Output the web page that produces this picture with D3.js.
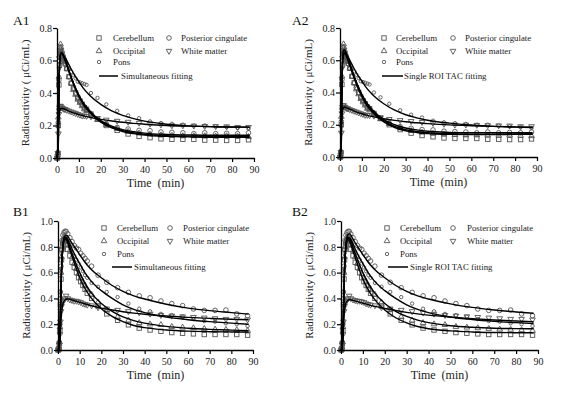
<!DOCTYPE html>
<html><head><meta charset="utf-8">
<script src="https://cdn.jsdelivr.net/npm/d3@7"></script>
<style>body{margin:0;background:#fff}svg{display:block}text{font-family:"Liberation Serif","Times New Roman",serif}</style>
</head><body><svg id="c" width="575" height="401"></svg>
<script>
// frame mid-times (min)
const frameT = [0.125,0.375,0.625,0.875,1.125,1.375,1.625,1.875,2.25,2.75,3.25,3.75,4.5,5.5,6.5,7.5,8.5,9.5,10.5,11.5,12.5,13.5,15.5,18.5,22.5,27.5,32.5,37.5,42.5,47.5,52.5,57.5,62.5,67.5,72.5,77.5,82.5,87.5];
const regions = ["Cerebellum","Posterior cingulate","Occipital","White matter","Pons"];
const xTicks = [0,10,20,30,40,50,60,70,80,90];
const yTicksA = [0,0.2,0.4,0.6,0.8];
const yTicksB = [0,0.2,0.4,0.6,0.8,1.0];

// Subject A measured TACs
const aCerebellum = [0,0.02,0.2,0.45,0.57,0.62,0.64,0.64,0.63,0.62,0.6,0.58,0.55,0.5,0.46,0.43,0.4,0.37,0.35,0.33,0.31,0.3,0.27,0.24,0.2,0.17,0.148,0.133,0.125,0.118,0.115,0.115,0.115,0.11,0.11,0.108,0.108,0.112];
const aOccipital = [0,0.03,0.25,0.5,0.63,0.68,0.7,0.68,0.66,0.63,0.61,0.59,0.55,0.5,0.46,0.42,0.39,0.36,0.34,0.32,0.3,0.29,0.27,0.235,0.205,0.18,0.162,0.152,0.145,0.14,0.138,0.135,0.135,0.135,0.133,0.135,0.133,0.13];
const aPostCing = [0,0.03,0.22,0.48,0.6,0.64,0.65,0.65,0.64,0.62,0.6,0.58,0.55,0.5,0.46,0.43,0.4,0.37,0.35,0.33,0.31,0.3,0.27,0.24,0.21,0.188,0.178,0.17,0.168,0.16,0.158,0.155,0.15,0.155,0.15,0.152,0.15,0.155];
const aPons = [0,0.04,0.3,0.55,0.64,0.66,0.67,0.66,0.64,0.62,0.61,0.6,0.58,0.55,0.53,0.51,0.49,0.47,0.465,0.46,0.455,0.45,0.4,0.37,0.33,0.29,0.262,0.245,0.225,0.215,0.21,0.205,0.2,0.2,0.195,0.19,0.185,0.18];
const aWhite = [0,0.03,0.15,0.27,0.31,0.32,0.32,0.31,0.31,0.305,0.3,0.3,0.295,0.29,0.285,0.28,0.275,0.27,0.265,0.26,0.26,0.258,0.255,0.245,0.235,0.228,0.222,0.216,0.21,0.205,0.2,0.2,0.198,0.196,0.195,0.194,0.19,0.19];

// Subject B measured TACs
const bCerebellum = [0,0.01,0.05,0.15,0.35,0.55,0.7,0.78,0.83,0.85,0.84,0.82,0.78,0.73,0.68,0.64,0.6,0.56,0.53,0.5,0.47,0.44,0.4,0.34,0.28,0.23,0.195,0.17,0.155,0.145,0.135,0.13,0.125,0.12,0.12,0.12,0.12,0.115];
const bOccipital = [0,0.01,0.06,0.18,0.4,0.6,0.72,0.8,0.84,0.86,0.86,0.85,0.82,0.77,0.72,0.67,0.63,0.59,0.56,0.53,0.5,0.47,0.43,0.37,0.31,0.256,0.23,0.21,0.2,0.195,0.18,0.175,0.17,0.165,0.16,0.158,0.155,0.15];
const bPostCing = [0,0.01,0.06,0.2,0.45,0.65,0.78,0.85,0.89,0.91,0.92,0.92,0.9,0.87,0.84,0.81,0.79,0.78,0.75,0.73,0.71,0.69,0.65,0.58,0.525,0.483,0.447,0.42,0.405,0.38,0.36,0.344,0.318,0.307,0.307,0.31,0.28,0.266];
const bPons = [0,0.01,0.06,0.2,0.45,0.63,0.75,0.82,0.86,0.88,0.88,0.87,0.84,0.8,0.76,0.73,0.7,0.67,0.64,0.61,0.58,0.56,0.52,0.49,0.45,0.41,0.36,0.32,0.3,0.28,0.27,0.258,0.24,0.225,0.22,0.207,0.2,0.186];
const bWhite = [0,0.01,0.04,0.12,0.22,0.3,0.34,0.36,0.38,0.39,0.4,0.42,0.4,0.39,0.385,0.38,0.38,0.375,0.37,0.36,0.355,0.35,0.345,0.33,0.32,0.31,0.3,0.29,0.28,0.27,0.265,0.26,0.255,0.25,0.245,0.24,0.24,0.235];

// fitted curves, sampled
const fitT = [0,0.5,1,1.5,2,2.5,3,4,5,6,8,10,12,15,20,25,30,35,40,50,60,70,80,88];
const a1Cer = [0,0.1,0.5,0.63,0.645,0.64,0.625,0.59,0.55,0.51,0.44,0.38,0.33,0.28,0.22,0.185,0.163,0.15,0.141,0.133,0.13,0.128,0.128,0.128];
const a1Occ = [0,0.1,0.5,0.635,0.65,0.645,0.63,0.595,0.555,0.515,0.445,0.385,0.335,0.285,0.225,0.19,0.168,0.155,0.146,0.138,0.135,0.134,0.134,0.134];
const a1PC  = [0,0.1,0.5,0.63,0.645,0.64,0.627,0.593,0.553,0.514,0.445,0.387,0.34,0.29,0.23,0.196,0.175,0.162,0.153,0.145,0.142,0.14,0.14,0.14];
const a1Pons= [0,0.1,0.5,0.63,0.645,0.64,0.63,0.61,0.585,0.56,0.51,0.47,0.43,0.385,0.33,0.29,0.262,0.242,0.227,0.208,0.198,0.193,0.19,0.19];
const a1WM  = [0,0.05,0.25,0.3,0.305,0.305,0.303,0.298,0.292,0.286,0.276,0.267,0.26,0.25,0.238,0.228,0.22,0.213,0.208,0.2,0.196,0.193,0.191,0.19];
const a2Cer = [0,0.1,0.5,0.63,0.64,0.635,0.62,0.585,0.545,0.505,0.435,0.375,0.325,0.275,0.218,0.183,0.163,0.152,0.145,0.14,0.139,0.139,0.14,0.141];
const a2Occ = [0,0.12,0.55,0.66,0.665,0.655,0.64,0.6,0.56,0.52,0.448,0.386,0.335,0.284,0.225,0.19,0.17,0.158,0.15,0.144,0.142,0.142,0.143,0.144];
const a2PC  = [0,0.1,0.5,0.63,0.645,0.64,0.627,0.593,0.553,0.514,0.445,0.387,0.34,0.29,0.232,0.2,0.18,0.168,0.16,0.153,0.15,0.15,0.15,0.151];
const a2Pons= [0,0.1,0.52,0.64,0.65,0.645,0.635,0.612,0.586,0.56,0.51,0.47,0.43,0.385,0.33,0.29,0.262,0.243,0.228,0.21,0.198,0.19,0.185,0.183];
const a2WM  = [0,0.05,0.26,0.305,0.31,0.308,0.305,0.3,0.294,0.288,0.277,0.268,0.26,0.25,0.237,0.227,0.219,0.212,0.207,0.199,0.194,0.19,0.187,0.185];
const b1Cer = [0,0.02,0.2,0.55,0.75,0.83,0.86,0.85,0.8,0.75,0.65,0.56,0.49,0.41,0.32,0.26,0.22,0.19,0.173,0.155,0.146,0.142,0.14,0.139];
const b1Occ = [0,0.02,0.2,0.55,0.75,0.83,0.86,0.86,0.82,0.77,0.68,0.6,0.53,0.45,0.36,0.3,0.257,0.228,0.208,0.183,0.169,0.16,0.154,0.15];
const b1PC  = [0,0.02,0.2,0.55,0.75,0.84,0.88,0.89,0.87,0.84,0.79,0.74,0.69,0.63,0.56,0.5,0.455,0.42,0.395,0.355,0.325,0.305,0.29,0.278];
const b1Pons= [0,0.02,0.2,0.55,0.75,0.84,0.87,0.87,0.84,0.8,0.73,0.67,0.61,0.54,0.46,0.4,0.35,0.315,0.29,0.255,0.235,0.22,0.208,0.2];
const b1WM  = [0,0.01,0.1,0.25,0.33,0.37,0.385,0.395,0.395,0.39,0.38,0.37,0.36,0.345,0.325,0.31,0.297,0.286,0.277,0.263,0.253,0.245,0.238,0.234];
const b2Cer = [0,0.02,0.22,0.58,0.77,0.84,0.86,0.84,0.79,0.74,0.64,0.55,0.48,0.4,0.31,0.25,0.21,0.182,0.165,0.148,0.14,0.136,0.134,0.133];
const b2Occ = [0,0.02,0.2,0.55,0.75,0.83,0.86,0.86,0.82,0.77,0.68,0.6,0.53,0.45,0.36,0.3,0.26,0.232,0.212,0.188,0.176,0.169,0.166,0.165];
const b2PC  = [0,0.02,0.2,0.55,0.76,0.85,0.89,0.9,0.875,0.845,0.79,0.74,0.69,0.63,0.56,0.5,0.455,0.42,0.395,0.358,0.33,0.31,0.295,0.285];
const b2Pons= [0,0.02,0.2,0.55,0.75,0.84,0.87,0.87,0.84,0.8,0.73,0.67,0.61,0.54,0.46,0.4,0.35,0.315,0.29,0.256,0.236,0.222,0.212,0.205];
const b2WM  = [0,0.01,0.12,0.28,0.35,0.375,0.385,0.39,0.388,0.383,0.373,0.363,0.354,0.34,0.322,0.306,0.292,0.28,0.27,0.255,0.243,0.233,0.225,0.22];

const symbols = {"Cerebellum":"square","Posterior cingulate":"circle","Occipital":"tri","White matter":"tridown","Pons":"small"};

const panels = [
 {label:"A1", lx:13, ly:25, x0:57, x1:254, yb:158, yt:28, ymax:0.8, yTicks:yTicksA,
  data:[aCerebellum,aPostCing,aOccipital,aWhite,aPons], fits:[a1Cer,a1PC,a1Occ,a1WM,a1Pons], fitLabel:"Simultaneous fitting",
  lg:{m1:99,t1:113,m2:169,t2:181,rows:[38,51,62],fy:76,fl:[99,118],ft:121}},
 {label:"A2", lx:292, ly:25, x0:340, x1:537, yb:157, yt:28, ymax:0.8, yTicks:yTicksA,
  data:[aCerebellum,aPostCing,aOccipital,aWhite,aPons], fits:[a2Cer,a2PC,a2Occ,a2WM,a2Pons], fitLabel:"Single ROI TAC fitting",
  lg:{m1:384,t1:396,m2:453,t2:465,rows:[38,51,62],fy:76,fl:[382,403],ft:404}},
 {label:"B1", lx:13, ly:216, x0:58, x1:253, yb:350, yt:221, ymax:1.0, yTicks:yTicksB,
  data:[bCerebellum,bPostCing,bOccipital,bWhite,bPons], fits:[b1Cer,b1PC,b1Occ,b1WM,b1Pons], fitLabel:"Simultaneous fitting",
  lg:{m1:104,t1:117,m2:170,t2:183,rows:[228,241,254],fy:267,fl:[112,132],ft:134}},
 {label:"B2", lx:292, ly:216, x0:341, x1:538, yb:350, yt:221, ymax:1.0, yTicks:yTicksB,
  data:[bCerebellum,bPostCing,bOccipital,bWhite,bPons], fits:[b2Cer,b2PC,b2Occ,b2WM,b2Pons], fitLabel:"Single ROI TAC fitting",
  lg:{m1:387,t1:400,m2:453,t2:467,rows:[228,241,254],fy:267,fl:[388,408],ft:410}}
];

const svg = d3.select("#c");
const mcol = "#555";

function drawMarker(g, kind, x, y){
  if(kind==="square"){
    g.append("rect").attr("x",x-2.2).attr("y",y-2.2).attr("width",4.4).attr("height",4.4)
     .attr("fill","none").attr("stroke",mcol).attr("stroke-width",0.9);
  } else if(kind==="circle"){
    g.append("circle").attr("cx",x).attr("cy",y).attr("r",2.3).attr("fill","none").attr("stroke",mcol).attr("stroke-width",0.9);
  } else if(kind==="small"){
    g.append("circle").attr("cx",x).attr("cy",y).attr("r",1.7).attr("fill","none").attr("stroke",mcol).attr("stroke-width",0.9);
  } else {
    const s = d3.symbol().type(d3.symbolTriangle).size(14);
    g.append("path").attr("d",s()).attr("transform",`translate(${x},${y})${kind==="tridown"?" rotate(180)":""}`)
     .attr("fill","none").attr("stroke",mcol).attr("stroke-width",0.9);
  }
}

panels.forEach(p=>{
  const g = svg.append("g");
  const x = d3.scaleLinear().domain([0,90]).range([p.x0,p.x1]);
  const y = d3.scaleLinear().domain([0,p.ymax]).range([p.yb,p.yt]);

  const mg = g.append("g");
  regions.forEach((r,i)=>{
    p.data[i].forEach((v,j)=>drawMarker(mg, symbols[r], x(frameT[j]), y(v)));
  });
  const line = d3.line().x((d,j)=>x(fitT[j])).y(d=>y(d)).curve(d3.curveMonotoneX);
  p.fits.forEach(f=>{
    g.append("path").attr("d",line(f)).attr("fill","none").attr("stroke","#000").attr("stroke-width",1.4);
  });

  const xa = g.append("g").attr("transform",`translate(0,${p.yb})`)
    .call(d3.axisBottom(x).tickValues(xTicks).tickSize(4).tickSizeOuter(0).tickFormat(d3.format("d")));
  const ya = g.append("g").attr("transform",`translate(${p.x0},0)`)
    .call(d3.axisLeft(y).tickValues(p.yTicks).tickSize(4).tickSizeOuter(0).tickFormat(d3.format(".1f")));
  [xa,ya].forEach(a=>{
    a.select(".domain").attr("stroke","#000").attr("stroke-width",1.3);
    a.selectAll(".tick line").attr("stroke","#000").attr("stroke-width",1.2);
    a.selectAll("text").attr("font-family","Liberation Serif, serif").attr("font-size",10).attr("fill","#222");
  });
  xa.selectAll("text").attr("dy","0.95em").attr("y",5);
  ya.selectAll("text").attr("x",-5);

  g.append("text").attr("x",(p.x0+p.x1)/2).attr("y",p.yb+29).attr("text-anchor","middle")
    .attr("font-size",12).attr("fill","#222").attr("xml:space","preserve").text("Time  (min)");
  g.append("text").attr("transform",`translate(${p.x0-28},${(p.yb+p.yt)/2}) rotate(-90)`).attr("text-anchor","middle")
    .attr("font-size",11).attr("fill","#222").text("Radioactivity ( μCi/mL)");
  g.append("text").attr("x",p.lx).attr("y",p.ly).attr("font-size",13.5).attr("fill","#111").text(p.label);

  const L = p.lg;
  const items = [["Cerebellum",L.m1,L.t1,L.rows[0]],["Posterior cingulate",L.m2,L.t2,L.rows[0]],
                 ["Occipital",L.m1,L.t1,L.rows[1]],["White matter",L.m2,L.t2,L.rows[1]],["Pons",L.m1,L.t1,L.rows[2]]];
  items.forEach(([name,mx,tx,ry])=>{
    drawMarker(g, symbols[name], mx, ry);
    g.append("text").attr("x",tx).attr("y",ry+3).attr("font-size",8.8).attr("fill","#222").text(name);
  });
  g.append("line").attr("x1",L.fl[0]).attr("x2",L.fl[1]).attr("y1",L.fy).attr("y2",L.fy).attr("stroke","#000").attr("stroke-width",1.5);
  g.append("text").attr("x",L.ft).attr("y",L.fy+3).attr("font-size",8.8).attr("fill","#222").text(p.fitLabel);
});
</script></body></html>
